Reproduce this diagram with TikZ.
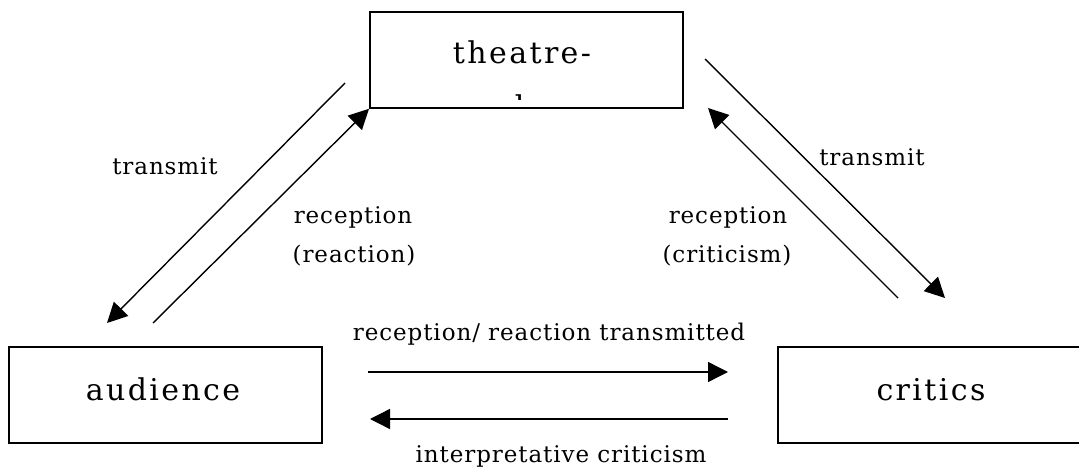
\documentclass[tikz,border=0pt]{standalone}
\usepackage{fontspec}
\setmainfont{DejaVu Serif}
\usetikzlibrary{arrows.meta}
\begin{document}
\begin{tikzpicture}[x=1pt,y=-1pt,
  box/.style={draw, line width=1.8pt, minimum width=313pt, minimum height=96pt, anchor=north west, inner sep=0pt},
  big/.style={font=\fontsize{30}{36}\selectfont\addfontfeature{LetterSpace=8}, inner sep=0pt, anchor=base},
  small/.style={font=\fontsize{23}{28}\selectfont\addfontfeature{LetterSpace=4}, inner sep=0pt, anchor=base},
  arr/.style={line width=1.4pt, -{Triangle[length=20pt,width=20pt]}},
  ]
\useasboundingbox (0,0) rectangle (1079,468);
% boxes
\node[box] (th) at (369,11) {};
\node[box] (au) at (8,346) {};
\node[box, minimum width=306pt] (cr) at (777,346) {};
% box texts
\node[big] (tht) at (522,64) {theatre-};
\begin{scope}
  \clip (369,11) rectangle (682,100);
  \node[big] (thm) at (517,118) {maker};
\end{scope}
\node[big] (aut) at (163,400) {audience};
\node[big] (crt) at (931,400) {critics};
% labels
\node[small] (l1) at (165,175) {transmit};
\node[small] (l2) at (353,223) {reception};
\node[small] (l3) at (354,262) {(reaction)};
\node[small] (l4) at (872,165) {transmit};
\node[small] (l5) at (728,223) {reception};
\node[small] (l6) at (727,262) {(criticism)};
\node[small] (l7) at (549,340) {reception/ reaction transmitted};
\node[small] (l8) at (561,462) {interpretative criticism};
% connector end points
\coordinate (p1) at (345,83);
\coordinate (p2) at (107,323);
\coordinate (p3) at (153,323);
\coordinate (p4) at (705,59);
\coordinate (p5) at (945,298);
\coordinate (p6) at (898,298);
\coordinate (p7) at (708,108);
\coordinate (h1) at (368,372);
\coordinate (h2) at (728,372);
\coordinate (h3) at (728,419);
\coordinate (h4) at (370,419);
% connectors
\draw[arr] (p1) -- (p2);
\draw[arr] (p3) -- (th.south west);
\draw[arr] (p4) -- (p5);
\draw[arr] (p6) -- (p7);
\draw[arr] (h1) -- (h2);
\draw[arr] (h3) -- (h4);
\end{tikzpicture}
\end{document}
